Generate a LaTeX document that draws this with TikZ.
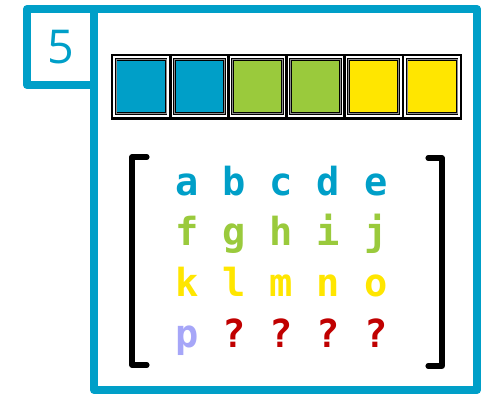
\documentclass[tikz,border=0pt]{standalone}
\usepackage{fontspec}
\setmainfont{Open Sans}
\setmonofont{DejaVu Sans Mono}
\definecolor{MxBlue}{HTML}{009FC8}
\definecolor{MxGreen}{HTML}{9ACA3C}
\definecolor{MxYellow}{HTML}{FFE600}
\definecolor{MxLilac}{HTML}{A6A6F8}
\definecolor{MxRed}{HTML}{C00000}
\definecolor{MxGrey}{HTML}{8C8C8C}

\begin{document}
\begin{tikzpicture}[x=0.75pt,y=-0.75pt,
  frameline/.style={draw=MxBlue,line width=6pt,line join=round},
  cellbox/.style={draw=black,line width=2pt,minimum width=43.6pt,minimum height=47.5pt,inner sep=0pt},
  cellfill/.style={draw=black,line width=0.7pt,double=MxGrey,double distance=0.6pt,minimum width=37.5pt,minimum height=40.5pt,inner sep=0pt},
  bracket/.style={draw=black,line width=3.8pt,line cap=round,line join=round},
  entry/.style={anchor=base,inner sep=0pt,font=\fontsize{29}{29}\ttfamily\bfseries}]
\path[use as bounding box] (0,0) rectangle (489,394);
% outer frame and number tab
\draw[frameline] (94,9) rectangle (477,390);
\draw[frameline] (94,85) -- (27,85) -- (27,9) -- (94,9);
\node[text=MxBlue,font=\fontsize{35}{35}\selectfont] (num) at (61,47) {5};
% colour strip
\foreach \c [count=\i from 0] in {MxBlue,MxBlue,MxGreen,MxGreen,MxYellow,MxYellow} {
  \node[cellbox] (cell\i) at (141.1+58.17*\i,86.5) {};
  \node[cellfill,fill=\c] (fill\i) at (cell\i.center) {};
}
% brackets
\coordinate (lt) at (147,157);
\coordinate (lb) at (147,365);
\coordinate (rt) at (428,158);
\coordinate (rb) at (428,366);
\draw[bracket] (lt) -- (132,157) -- (132,365) -- (lb);
\draw[bracket] (rt) -- (442,158) -- (442,366) -- (rb);
% matrix entries
\foreach \t [count=\i from 0] in {a,b,c,d,e}
  \node[entry,text=MxBlue] (r1c\i) at (187+47.2*\i,195) {\t};
\foreach \t [count=\i from 0] in {f,g,h,i,j}
  \node[entry,text=MxGreen] (r2c\i) at (187+47.2*\i,245) {\t};
\foreach \t [count=\i from 0] in {k,l,m,n,o}
  \node[entry,text=MxYellow] (r3c\i) at (187+47.2*\i,296) {\t};
\node[entry,text=MxLilac] (r4c0) at (187,347) {p};
\foreach \i in {1,...,4}
  \node[entry,text=MxRed] (r4c\i) at (187+47.2*\i,347) {?};
\end{tikzpicture}
\end{document}
